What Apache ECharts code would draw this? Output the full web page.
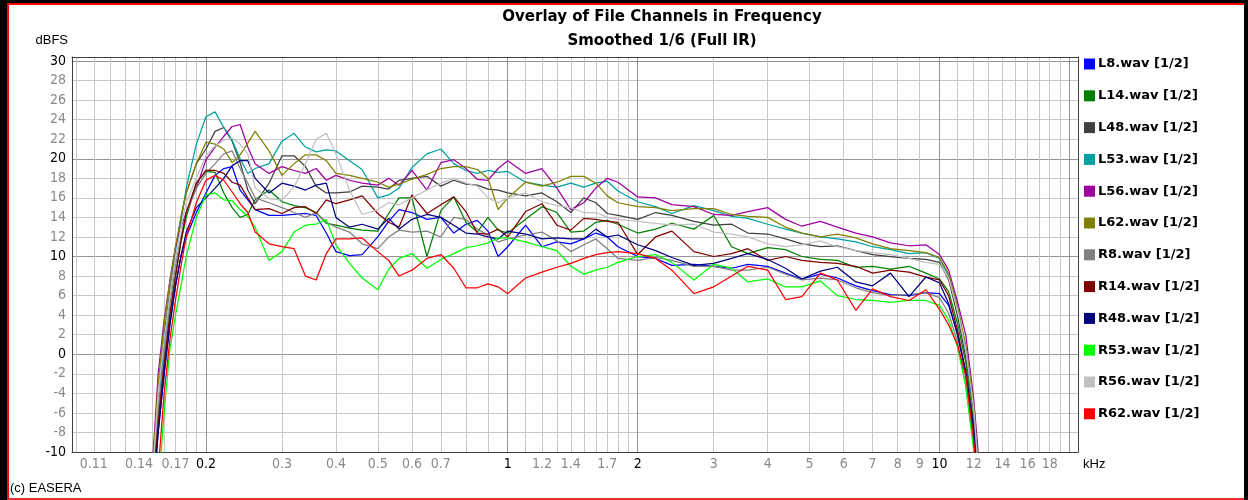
<!DOCTYPE html>
<html><head><meta charset="utf-8">
<script src="https://cdn.jsdelivr.net/npm/echarts@6/dist/echarts.min.js"></script>
<style>html,body{margin:0;padding:0;background:#fff}#c{width:1248px;height:500px}</style>
</head><body><div id="c"></div>
<script>
// ---------- data (frequency in kHz, level in dBFS) ----------
const freqKHz = [0.15,0.155,0.16,0.165,0.17,0.175,0.18,0.19,0.2,0.21,0.22,0.23,0.24,0.25,0.26,0.28,0.3,0.32,0.34,0.36,0.38,0.4,0.43,0.46,0.5,0.53,0.56,0.6,0.65,0.7,0.75,0.8,0.85,0.9,0.95,1.0,1.1,1.2,1.3,1.4,1.5,1.6,1.7,1.8,2.0,2.2,2.4,2.7,3.0,3.3,3.6,4.0,4.4,4.8,5.3,5.8,6.4,7.0,7.7,8.5,9.3,10.0,10.5,11.0,11.5,12.0,12.5];

const L8  = [-16,-8,-2,3,7,10,12,14.5, 16.5,18.3,19.0,19.2,16.8,15.8,14.8,14.2, 14.2,14.3,14.4,14.2,12.4,10.5, 10.1,10.2,12.0,13.6,14.8,14.5,13.8,14.0,12.4,13.3,13.7,12.6,10.0,11.0, 13.2,11.0,11.5,11.3,11.8,12.4,12.0,11.0, 10.0,9.8,9.1,9.2,9.0,8.8,9.2,9.0,8.3,7.7,8.2,7.8,7.0,6.5,6.1,6.0,6.3, 6.2,5.0,2.2,-2.0,-8.5,-20];
const L14 = [-15,-7,-1,4,8,11.5,14,17.5, 18.7,18.6,16.5,15.0,14.0,14.3,15.8,16.8, 15.6,15.2,15.0,14.5,13.4,13.2, 12.9,12.7,12.6,14.4,16.0,16.0,10.0,14.7,16.1,13.5,12.5,14.0,12.7,12.4, 13.8,15.1,14.5,12.5,12.6,13.5,13.7,13.3, 12.4,12.8,13.4,12.8,14.2,11.0,10.3,10.9,10.7,10.0,9.7,9.6,8.9,9.0,8.7,9.0,8.3, 7.7,6.4,3.2,-0.8,-7.0,-18];
const L48 = [-12,-4,2,6.5,10.5,14,16.5,19.5, 21.0,22.8,23.2,21.8,19.6,16.8,15.4,17.5, 20.3,20.3,19.2,17.2,16.5,16.5, 16.6,17.2,17.1,16.9,17.8,18.0,18.2,17.2,17.8,17.4,17.3,16.9,16.8,16.5, 16.2,16.5,15.6,14.5,16.0,15.5,14.4,14.2, 13.8,14.5,14.2,13.6,13.2,13.3,12.4,12.3,11.8,11.3,11.0,11.1,10.6,10.2,10.0,9.8,9.7, 9.4,7.6,4.0,-0.3,-5.8,-17];
const L53 = [-14,-6,1,6,10,13.5,17,21.5, 24.3,24.8,23.2,21.9,20.0,18.5,19.0,19.5, 21.8,22.6,21.2,20.7,20.9,20.8, 19.8,18.9,16.0,16.3,17.0,19.1,20.5,21.0,19.5,18.8,18.5,18.8,18.6,18.7, 17.6,17.3,17.1,17.5,17.1,17.5,17.7,16.7, 15.6,15.1,14.4,15.2,14.7,14.1,13.9,13.3,12.8,12.4,12.0,11.8,11.5,11.0,10.7,10.3,10.4, 9.8,8.0,5.0,0.5,-5.5,-15];
const L56 = [-12,-2,3.5,7.5,11,13,14.5,17.0, 19.9,21.2,22.3,23.3,23.5,21.2,19.5,18.5, 19.2,18.8,18.5,19.0,17.8,18.3, 17.8,17.5,17.3,18.0,17.3,18.8,16.8,19.6,19.9,19.0,17.9,17.8,19.0,19.8, 18.5,19.0,17.0,14.8,15.5,17.0,18.0,17.6, 16.1,16.0,15.3,15.1,14.3,14.2,14.6,15.0,13.8,13.1,13.6,13.0,12.4,12.0,11.4,11.1,11.2, 10.2,8.6,5.4,2.0,-4.5,-14];
const L62 = [-13,-3,3,7.5,11,14,16.5,19.5, 21.7,21.5,21.0,19.6,20.4,21.6,22.8,20.8, 18.3,19.5,20.4,20.4,19.8,18.5, 18.3,18.0,17.6,17.1,17.4,17.9,18.4,19.0,19.2,19.2,18.9,18.0,14.8,16.0, 17.6,17.2,17.6,18.2,18.2,17.5,16.2,15.5, 15.1,15.0,14.7,14.9,14.9,14.3,14.1,14.0,13.0,12.4,12.0,12.3,11.9,11.3,10.8,10.6,10.4, 9.9,8.2,4.9,1.0,-5.0,-16];
const R8  = [-14,-6,0,5,9,12,14.5,17, 18.5,19.5,20.5,20.8,19.0,17.5,16.0,15.5, 15.0,14.5,14.0,14.5,13.5,13.0, 12.5,11.3,10.8,12.0,12.7,12.5,12.6,12.0,14.0,13.8,12.8,12.2,11.5,11.8, 12.2,12.5,11.6,10.5,11.2,11.8,10.8,9.8, 9.6,9.9,9.6,9.0,9.0,8.6,8.6,8.9,8.2,7.6,7.8,7.6,6.8,6.3,6.0,6.1,6.3, 5.8,4.2,1.3,-3.2,-9.5,-22];
const R14 = [-15,-7,-1,4,8,11.5,14.5,17.5, 18.8,18.8,18.5,17.6,17.3,16.0,14.8,14.9, 14.4,15.0,15.1,14.4,15.8,15.4, 15.8,16.2,14.4,13.5,13.0,16.3,14.4,15.3,16.1,14.6,12.4,12.3,12.8,12.0, 14.6,15.4,13.2,12.7,13.9,13.8,13.6,13.5, 10.2,12.0,12.6,10.5,10.0,10.3,10.8,9.6,10.0,9.6,9.4,9.3,9.0,8.3,8.6,8.4,7.9, 7.6,6.0,2.5,-1.8,-8.0,-20];
const R48 = [-16,-8,-2,3,7,10,12.5,15, 16.0,17.0,18.0,19.3,19.8,19.8,18.0,16.5, 17.5,17.2,16.8,17.3,17.5,14.0, 13.0,13.3,12.8,13.9,12.8,13.8,14.3,14.0,13.2,12.4,12.3,12.0,11.8,12.6, 12.3,11.8,11.9,11.8,11.8,12.8,12.0,12.2, 11.2,10.6,9.9,9.1,9.3,9.8,10.3,9.7,8.8,7.7,8.5,8.9,7.4,7.0,8.3,5.9,7.9, 7.3,5.2,2.0,-1.8,-7.5,-18];
const R53 = [-25,-14,-6,0.5,4,7,10,14, 16.3,16.5,15.8,15.7,14.8,14.1,13.0,9.6, 10.5,12.5,13.2,13.3,13.8,11.2, 9.3,7.8,6.6,8.7,9.8,10.3,8.8,9.7,10.3,10.9,11.1,11.4,11.9,11.9, 11.5,11.0,10.6,9.0,8.2,8.6,8.9,9.4, 10.0,10.2,9.4,7.6,9.2,8.8,7.4,7.7,6.9,6.9,7.5,6.0,5.6,5.5,5.3,5.5,5.5, 5.0,3.5,0.8,-3.2,-9.8,-22];
const R56 = [-13,-4,1.5,6,10,13,15.5,18, 20.3,21.3,21.9,22.1,21.5,20.5,17.0,15.9, 15.8,17.1,19.5,22.0,22.6,20.5, 16.8,14.3,14.8,15.5,15.3,16.0,16.8,17.5,18.0,17.5,17.2,16.0,15.5,16.0, 16.5,15.6,15.2,15.0,14.5,14.5,14.0,13.8, 13.6,13.4,13.2,13.3,12.5,12.3,12.0,11.3,11.0,11.2,11.6,11.0,10.6,10.4,10.2,9.8,9.4, 9.2,7.8,4.6,0.5,-5.5,-16];
const R62 = [-20,-12,-4,1.5,5.5,9,12,15.5, 17.8,18.3,17.8,16.6,15.4,14.5,12.5,11.3, 11.0,10.8,8.0,7.6,10.3,11.8, 11.8,11.9,10.5,9.6,8.0,8.6,9.8,10.2,8.8,6.8,6.8,7.2,6.9,6.2, 7.8,8.4,8.9,9.3,9.8,10.2,10.4,10.5, 10.3,9.8,8.6,6.2,6.9,8.0,9.0,8.6,5.6,5.9,8.3,7.6,4.5,6.7,5.9,5.5,6.6, 4.6,3.0,1.0,-2.2,-8.8,-20];

const seriesNames = ['L8.wav [1/2]','L14.wav [1/2]','L48.wav [1/2]','L53.wav [1/2]','L56.wav [1/2]','L62.wav [1/2]','R8.wav [1/2]','R14.wav [1/2]','R48.wav [1/2]','R53.wav [1/2]','R56.wav [1/2]','R62.wav [1/2]'];
const seriesValues = [L8, L14, L48, L53, L56, L62, R8, R14, R48, R53, R56, R62];

// tick labels / grid positions
const xTickLabels = [0.11,0.14,0.17,0.2,0.3,0.4,0.5,0.6,0.7,1,1.2,1.4,1.7,2,3,4,5,6,7,8,9,10,12,14,16,18];
const xBoldLabels = [0.2,1,2,10];
const xMinorGrid = [0.1,0.11,0.12,0.13,0.14,0.15,0.16,0.17,0.18,0.19,0.3,0.4,0.5,0.6,0.7,0.8,0.9,1.1,1.2,1.3,1.4,1.5,1.6,1.7,1.8,1.9,3,4,5,6,7,8,9,11,12,13,14,15,16,17,18,19];
const xMajorGrid = [0.2,1,2,10,20];
const yTickLabels = [-10,-8,-6,-4,-2,0,2,4,6,8,10,12,14,16,18,20,22,24,26,28,30];

// ---------- styles ----------
const colors = ['#0000ff','#008000','#404040','#00a0a0','#a000a0','#808000','#808080','#800000','#000080','#00ff00','#c0c0c0','#ff0000'];
const narrow = '"Liberation Sans Narrow","DejaVu Sans Condensed","Liberation Sans",sans-serif';
const fmtNum = v => String(Math.round(Number(v) * 100) / 100);

const chart = echarts.init(document.getElementById('c'), null, {renderer: 'canvas'});

const gridBox = {left: 72, top: 57, right: 170, bottom: 48};

chart.setOption({
  animation: false,
  backgroundColor: '#ffffff',
  grid: Object.assign({show: true, backgroundColor: '#ffffff', borderWidth: 0}, gridBox),
  legend: {
    data: seriesNames,
    orient: 'vertical',
    left: 1084, top: 57, padding: 0,
    icon: 'rect', itemWidth: 11, itemHeight: 11, itemGap: 17.8,
    selectedMode: false,
    textStyle: {fontFamily: '"DejaVu Sans",sans-serif', fontWeight: 'bold', fontSize: 13, color: '#000', lineHeight: 14, padding: [0,0,0,-2]}
  },
  xAxis: [{
    type: 'log', logBase: 10, min: 0.0979, max: 20.93,
    axisLine: {show: true, onZero: false, lineStyle: {color: '#404040', width: 1}},
    axisTick: {show: false, customValues: xMinorGrid},
    splitLine: {show: true, lineStyle: {color: '#c8c8c8', width: 1}},
    minorTick: {show: false}, minorSplitLine: {show: false},
    axisLabel: {
      customValues: xTickLabels, margin: 5,
      formatter: v => fmtNum(v),
      fontFamily: narrow, fontSize: 14,
      color: v => xBoldLabels.indexOf(Number(fmtNum(v))) >= 0 ? '#000000' : '#8a8a8a'
    }
  }, {
    type: 'log', logBase: 10, min: 0.0979, max: 20.93, position: 'top',
    axisLine: {show: true, onZero: false, lineStyle: {color: '#404040', width: 1}},
    axisTick: {show: false, customValues: xMajorGrid},
    axisLabel: {show: false},
    splitLine: {show: true, lineStyle: {color: '#959595', width: 1}},
    minorTick: {show: false}, minorSplitLine: {show: false}
  }],
  yAxis: [{
    type: 'value', min: -10, max: 30.41, interval: 2,
    axisLine: {show: true, onZero: false, lineStyle: {color: '#404040', width: 1}},
    axisTick: {show: false},
    splitLine: {show: true, lineStyle: {color: '#c8c8c8', width: 1}},
    axisLabel: {
      customValues: yTickLabels, margin: 6,
      fontFamily: narrow, fontSize: 14,
      formatter: v => fmtNum(v),
      color: v => (Math.round(Number(v)) % 10 === 0) ? '#000000' : '#8a8a8a'
    }
  }, {
    type: 'value', min: -10, max: 30.41, interval: 10, position: 'right',
    axisLine: {show: true, onZero: false, lineStyle: {color: '#404040', width: 1}},
    axisTick: {show: false},
    axisLabel: {show: false},
    splitLine: {show: true, lineStyle: {color: '#959595', width: 1}}
  }],
  series: seriesValues.map((vals, i) => ({
    name: seriesNames[i],
    type: 'line',
    xAxisIndex: 0, yAxisIndex: 0,
    data: freqKHz.map((f, j) => [f, vals[j]]),
    symbol: 'none', showSymbol: false,
    clip: true,
    lineStyle: {width: 1.25, color: colors[i]},
    itemStyle: {color: colors[i]},
    emphasis: {disabled: true},
    z: 3
  })),
  graphic: [
    {type: 'rect', shape: {x: 0, y: 0, width: 7, height: 500}, style: {fill: '#000'}},
    {type: 'rect', shape: {x: 7, y: 0, width: 2, height: 500}, style: {fill: '#ff0000'}},
    {type: 'rect', shape: {x: 0, y: 0, width: 1248, height: 3}, style: {fill: '#000'}},
    {type: 'rect', shape: {x: 7, y: 3, width: 1237, height: 2}, style: {fill: '#ff0000'}},
    {type: 'rect', shape: {x: 1244, y: 0, width: 4, height: 500}, style: {fill: '#000'}},
    {type: 'rect', shape: {x: 7, y: 498, width: 1237, height: 2}, style: {fill: '#e03030'}},
    {type: 'text', x: 662, y: 17, style: {text: 'Overlay of File Channels in Frequency', align: 'center', verticalAlign: 'middle', fontFamily: '"DejaVu Sans",sans-serif', fontWeight: 'bold', fontSize: 15, fill: '#000'}},
    {type: 'text', x: 662, y: 41, style: {text: 'Smoothed 1/6 (Full IR)', align: 'center', verticalAlign: 'middle', fontFamily: '"DejaVu Sans",sans-serif', fontWeight: 'bold', fontSize: 15, fill: '#000'}},
    {type: 'text', x: 68, y: 40, style: {text: 'dBFS', align: 'right', verticalAlign: 'middle', fontFamily: '"Liberation Sans",Arial,sans-serif', fontSize: 13, fill: '#000'}},
    {type: 'text', x: 1083, y: 464, style: {text: 'kHz', align: 'left', verticalAlign: 'middle', fontFamily: '"Liberation Sans",Arial,sans-serif', fontSize: 13, fill: '#000'}},
    {type: 'text', x: 10, y: 488, style: {text: '(c) EASERA', align: 'left', verticalAlign: 'middle', fontFamily: '"Liberation Sans",Arial,sans-serif', fontSize: 13, fill: '#000'}}
  ]
});
</script>
</body></html>
